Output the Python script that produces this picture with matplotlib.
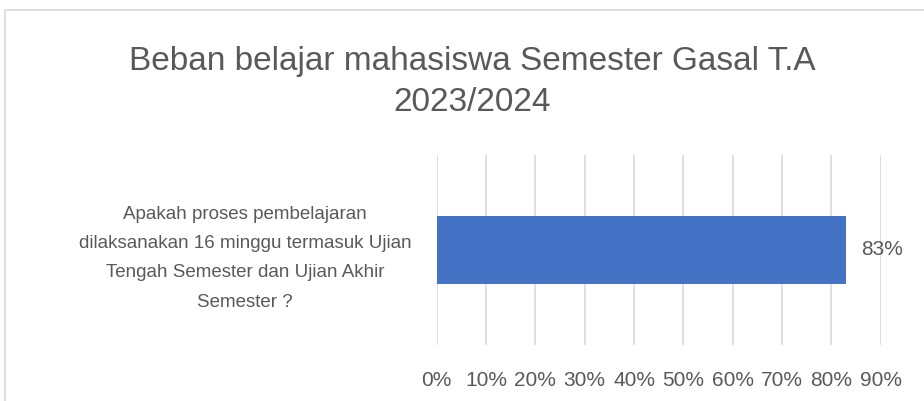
import matplotlib.pyplot as plt
from matplotlib.patches import Rectangle
from matplotlib.ticker import FuncFormatter

# Données
judul = "Beban belajar mahasiswa Semester Gasal T.A\n2023/2024"
kategori = ["Apakah proses pembelajaran\ndilaksanakan 16 minggu termasuk Ujian\nTengah Semester dan Ujian Akhir\nSemester ?"]
nilai = [0.83]
ticks_x = [0.0, 0.1, 0.2, 0.3, 0.4, 0.5, 0.6, 0.7, 0.8, 0.9]

abu = '#595959'
plt.rcParams['font.family'] = ['Liberation Sans', 'DejaVu Sans']

fig = plt.figure(figsize=(9.24, 4.01), dpi=100)
ax = fig.add_axes([0.4726, 0.1397, 0.4805, 0.4738])

# Bingkai grafik
fig.patches.append(Rectangle((5 / 924, -0.05), 1.0, 1 - 10 / 401 + 0.05, transform=fig.transFigure,
                             fill=False, edgecolor='#D9D9D9', linewidth=1.2))

ax.barh([0], nilai, height=0.36, color='#4472C4', zorder=3)
for i, v in enumerate(nilai):
    ax.text(v + 0.03, i, f'{v:.0%}', va='center', ha='left', fontsize=15, color=abu)

ax.set_xlim(0, 0.9)
ax.set_ylim(-0.5, 0.5)
ax.set_xticks(ticks_x)
ax.xaxis.set_major_formatter(FuncFormatter(lambda x, _: '{:.0%}'.format(x)))
ax.set_yticks([0])
ax.set_yticklabels(kategori, ha='center', multialignment='center', linespacing=1.95)
ax.tick_params(axis='y', length=0, pad=138, labelsize=13.5, labelcolor=abu)
ax.tick_params(axis='x', length=0, pad=19, labelsize=15, labelcolor=abu)
ax.grid(axis='x', color='#D9D9D9', linewidth=1.2, zorder=0)
for s in ax.spines.values():
    s.set_visible(False)

fig.text(0.511, 0.795, judul, ha='center', va='center', fontsize=24, color=abu, linespacing=1.4)

fig.savefig('out.png', dpi=100, facecolor='white')
